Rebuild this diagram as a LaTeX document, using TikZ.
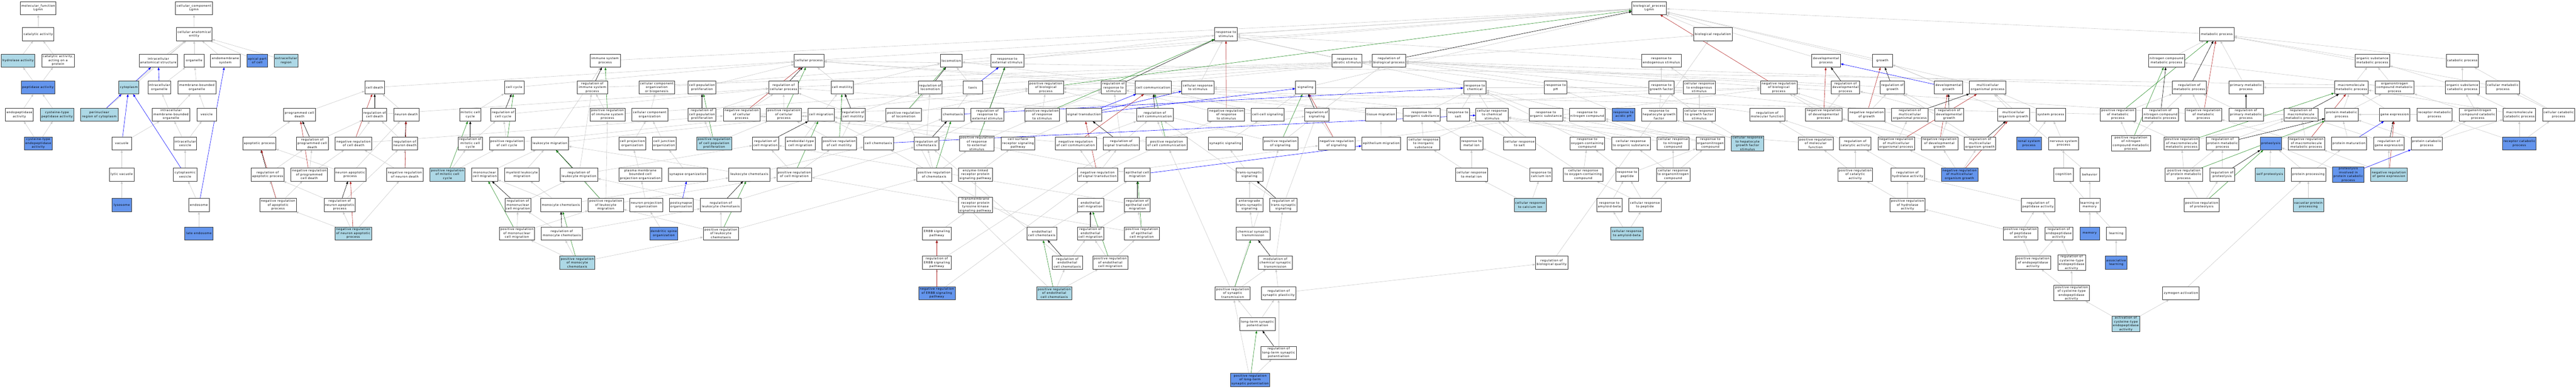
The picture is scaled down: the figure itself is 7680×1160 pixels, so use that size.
\documentclass[tikz,border=0pt]{standalone}
\usepackage{fontspec}
\newfontfamily\gofont[LetterSpace=9]{DejaVu Sans}
\usetikzlibrary{arrows.meta}
\usetikzlibrary{backgrounds}
\definecolor{golight}{HTML}{ADD8E6}
\definecolor{godark}{HTML}{6495ED}
\definecolor{edgegrey}{HTML}{C8C8C8}
\definecolor{negred}{HTML}{B22222}
\definecolor{posgreen}{HTML}{228B22}
\tikzset{
 box/.style={draw=black!80, line width=1pt, fill=white, rectangle, align=center, minimum height=39, inner xsep=2, inner ysep=1.5, font=\gofont\fontsize{9}{11.5}\selectfont},
 lb/.style={box, fill=golight},
 db/.style={box, fill=godark},
 isa/.style={draw=edgegrey, line width=0.9pt, ->},
 regl/.style={draw=black, line width=0.9pt, ->},
 negl/.style={draw=negred, line width=0.9pt, ->},
 posl/.style={draw=posgreen, line width=0.9pt, ->},
 partl/.style={draw=blue, line width=0.9pt, ->},
}

\begin{document}
\begin{tikzpicture}[x=1pt, y=-1pt, >={Triangle[length=8pt,width=6pt]}]
\useasboundingbox (0,0) rectangle (7680,1160);
% molecular function
\node[box,minimum width=106] (mf) at (114,24) {molecular\_function\\Lgmn};
\node[box,minimum width=94] (cat) at (114,102) {catalytic activity};
\node[lb,minimum width=100] (hydro) at (54,181) {hydrolase activity};
\node[box,minimum width=96] (catprot) at (173,181) {catalytic activity,\\acting on a\\protein};
\node[db,minimum width=100] (pept) at (113,261) {peptidase activity};
\node[box,minimum width=83] (endop) at (58,342) {endopeptidase\\activity};
\node[lb,minimum width=100] (cyspep) at (170,342) {cysteine-type\\peptidase activity};
\node[db,minimum width=84] (cysendo) at (114,428) {cysteine-type\\endopeptidase\\activity};
% cellular component
\node[box,minimum width=110] (cc) at (578,24) {cellular\_component\\Lgmn};
\node[box,minimum width=106] (cae) at (579,102) {cellular anatomical\\entity};
\node[box,minimum width=115] (intra) at (472,181) {intracellular\\anatomical structure};
\node[box,minimum width=59] (organelle) at (579,181) {organelle};
\node[box,minimum width=90] (endomem) at (672,181) {endomembrane\\system};
\node[db,minimum width=61] (apical) at (767,181) {apical part\\of cell};
\node[lb,minimum width=71] (extra) at (853,181) {extracellular\\region};
\node[lb,minimum width=60] (cyto) at (384,261) {cytoplasm};
\node[box,minimum width=68] (intraorg) at (475,261) {intracellular\\organelle};
\node[box,minimum width=113] (mbo) at (587,261) {membrane-bounded\\organelle};
\node[lb,minimum width=111] (perinuc) at (296,342) {perinuclear\\region of cytoplasm};
\node[box,minimum width=113] (imbo) at (510,342) {intracellular\\membrane-bounded\\organelle};
\node[box,minimum width=58] (vesicle) at (616,342) {vesicle};
\node[box,minimum width=59] (vacuole) at (363,428) {vacuole};
\node[box,minimum width=68] (ivesicle) at (552,428) {intracellular\\vesicle};
\node[box,minimum width=73] (lyticvac) at (363,521) {lytic vacuole};
\node[box,minimum width=70] (cytoves) at (552,521) {cytoplasmic\\vesicle};
\node[db,minimum width=59] (lysosome) at (363,612) {lysosome};
\node[box,minimum width=61] (endosome) at (593,612) {endosome};
\node[db,minimum width=84] (lateendo) at (593,697) {late endosome};
% biological process
\node[box,minimum width=103] (bp) at (4917,24) {biological\_process\\Lgmn};
\node[box,minimum width=114] (bioreg) at (5107,102) {biological regulation};
\node[box,minimum width=67] (rstim) at (3655,102) {response to\\stimulus};
\node[box,minimum width=102] (metab) at (6609,102) {metabolic process};
\node[box,minimum width=58] (celldeath) at (1117,261) {cell death};
\node[box,minimum width=95] (pcd) at (893,342) {programmed cell\\death};
\node[box,minimum width=72] (regcd) at (1117,342) {regulation of\\cell death};
\node[box,minimum width=75] (neurdeath) at (1211,342) {neuron death};
\node[box,minimum width=98] (apop) at (773,428) {apoptotic process};
\node[box,minimum width=96] (regpcd) at (931,428) {regulation of\\programmed cell\\death};
\node[box,minimum width=109] (negcd) at (1054,428) {negative regulation\\of cell death};
\node[box,minimum width=75] (regneurdeath) at (1207,428) {regulation of\\neuron death};
\node[box,minimum width=98] (regapop) at (798,521) {regulation of\\apoptotic process};
\node[box,minimum width=109] (negpcd) at (922,521) {negative regulation\\of programmed\\cell death};
\node[box,minimum width=94] (neurapop) at (1044,521) {neuron apoptotic\\process};
\node[box,minimum width=108] (negneurdeath) at (1207,521) {negative regulation\\of neuron death};
\node[box,minimum width=109] (negapop) at (829,612) {negative regulation\\of apoptotic\\process};
\node[box,minimum width=93] (regneurapop) at (1013,612) {regulation of\\neuron apoptotic\\process};
\node[lb,minimum width=109] (negneurapop) at (1053,697) {negative regulation\\of neuron apoptotic\\process};
\node[box,minimum width=91] (imsys) at (1804,181) {immune system\\process};
\node[box,minimum width=59] (cellcycle) at (1533,261) {cell cycle};
\node[box,minimum width=91] (regimm) at (1766,261) {regulation of\\immune system\\process};
\node[box,minimum width=107] (ccob) at (1958,261) {cellular component\\organization\\or biogenesis};
\node[box,minimum width=64] (mitcc) at (1402,342) {mitotic cell\\cycle};
\node[box,minimum width=73] (regcc) at (1500,342) {regulation of\\cell cycle};
\node[box,minimum width=104] (posimm) at (1811,342) {positive regulation\\of immune system\\process};
\node[box,minimum width=107] (cco) at (1937,342) {cellular component\\organization};
\node[box,minimum width=72] (regmitcc) at (1402,428) {regulation of\\mitotic cell\\cycle};
\node[box,minimum width=104] (poscc) at (1511,428) {positive regulation\\of cell cycle};
\node[box,minimum width=111] (leukmig) at (1639,428) {leukocyte migration};
\node[box,minimum width=79] (cellprojorg) at (1885,428) {cell projection\\organization};
\node[lb,minimum width=104] (posmitcc) at (1334,521) {positive regulation\\of mitotic cell\\cycle};
\node[box,minimum width=78] (mononuc) at (1445,521) {mononuclear\\cell migration};
\node[box,minimum width=103] (myeloid) at (1556,521) {myeloid leukocyte\\migration};
\node[box,minimum width=111] (regleukmig) at (1726,521) {regulation of\\leukocyte migration};
\node[box,minimum width=127] (pmbcpo) at (1909,521) {plasma membrane\\bounded cell\\projection organization};
\node[box,minimum width=77] (regmononuc) at (1544,612) {regulation of\\mononuclear\\cell migration};
\node[box,minimum width=122] (monochemo) at (1672,612) {monocyte chemotaxis};
\node[box,minimum width=105] (posleukmig) at (1806,612) {positive regulation\\of leukocyte\\migration};
\node[box,minimum width=98] (neurprojorg) at (1927,612) {neuron projection\\organization};
\node[box,minimum width=104] (posmononuc) at (1541,697) {positive regulation\\of mononuclear\\cell migration};
\node[box,minimum width=122] (regmonochemo) at (1675,697) {regulation of\\monocyte chemotaxis};
\node[lb,minimum width=104] (posmonochemo) at (1721,784) {positive regulation\\of monocyte\\chemotaxis};
\node[box,minimum width=88] (cellproc) at (2412,181) {cellular process};
\node[box,minimum width=83] (cellprolif) at (2093,261) {cell population\\proliferation};
\node[box,minimum width=88] (regcellproc) at (2336,261) {regulation of\\cellular process};
\node[box,minimum width=67] (motility) at (2511,261) {cell motility};
\node[box,minimum width=83] (regprolif) at (2093,342) {regulation of\\cell population\\proliferation};
\node[box,minimum width=109] (negcp) at (2211,342) {negative regulation\\of cellular\\process};
\node[box,minimum width=104] (poscp) at (2337,342) {positive regulation\\of cellular\\process};
\node[box,minimum width=78] (cellmig) at (2448,342) {cell migration};
\node[box,minimum width=72] (regmotility) at (2544,342) {regulation of\\cell motility};
\node[box,minimum width=70] (celljunc) at (1980,428) {cell junction\\organization};
\node[lb,minimum width=104] (posprolif) at (2129,428) {positive regulation\\of cell population\\proliferation};
\node[box,minimum width=78] (regcellmig) at (2282,428) {regulation of\\cell migration};
\node[box,minimum width=89] (ameboid) at (2386,428) {ameboidal-type\\cell migration};
\node[box,minimum width=104] (posmotility) at (2502,428) {positive regulation\\of cell motility};
\node[box,minimum width=118] (synorg) at (2051,521) {synapse organization};
\node[box,minimum width=122] (leukchemo) at (2234,521) {leukocyte chemotaxis};
\node[box,minimum width=104] (poscellmig) at (2368,521) {positive regulation\\of cell migration};
\node[box,minimum width=71] (postsyn) at (2031,612) {postsynapse\\organization};
\node[box,minimum width=122] (regleukchemo) at (2149,612) {regulation of\\leukocyte chemotaxis};
\node[db,minimum width=83] (dendspine) at (1979,697) {dendritic spine\\organization};
\node[box,minimum width=105] (posleukchemo) at (2149,697) {positive regulation\\of leukocyte\\chemotaxis};
\node[box,minimum width=64] (locom) at (2836,181) {locomotion};
\node[box,minimum width=98] (rext) at (3003,181) {response to\\external stimulus};
\node[box,minimum width=72] (reglocom) at (2773,261) {regulation of\\locomotion};
\node[box,minimum width=59] (taxis) at (2900,261) {taxis};
\node[box,minimum width=104] (posbio) at (3118,261) {positive regulation\\of biological\\process};
\node[box,minimum width=105] (poslocom) at (2694,342) {positive regulation\\of locomotion};
\node[box,minimum width=67] (chemotaxis) at (2841,342) {chemotaxis};
\node[box,minimum width=98] (regrext) at (2944,342) {regulation of\\response to\\external stimulus};
\node[box,minimum width=104] (posrstim) at (3107,342) {positive regulation\\of response\\to stimulus};
\node[box,minimum width=106] (sigtrans) at (3232,342) {signal transduction};
\node[box,minimum width=89] (cellchemo) at (2619,428) {cell chemotaxis};
\node[box,minimum width=73] (regchemo) at (2762,428) {regulation of\\chemotaxis};
\node[box,minimum width=104] (posrext) at (2912,428) {positive regulation\\of response\\to external\\stimulus};
\node[box,minimum width=100] (csrsp) at (3035,428) {cell surface\\receptor signaling\\pathway};
\node[box,minimum width=123] (negcellcomm) at (3207,428) {negative regulation\\of cell communication};
\node[box,minimum width=104] (poschemo) at (2785,521) {positive regulation\\of chemotaxis};
\node[box,minimum width=102] (elrpsp) at (2908,521) {enzyme-linked\\receptor protein\\signaling pathway};
\node[box,minimum width=102] (tmrtk) at (2908,612) {transmembrane\\receptor protein\\tyrosine kinase\\signaling pathway};
\node[box,minimum width=85] (erbb) at (2793,697) {ERBB signaling\\pathway};
\node[box,minimum width=89] (endochemo) at (3106,697) {endothelial\\cell chemotaxis};
\node[box,minimum width=85] (regerbb) at (2793,784) {regulation of\\ERBB signaling\\pathway};
\node[box,minimum width=90] (regendochemo) at (3182,784) {regulation of\\endothelial\\cell chemotaxis};
\node[db,minimum width=109] (negerbb) at (2793,875) {negative regulation\\of ERBB signaling\\pathway};
\node[lb,minimum width=105] (posendochemo) at (3143,875) {positive regulation\\of endothelial\\cell chemotaxis};
\node[box,minimum width=73] (regrstim) at (3320,261) {regulation of\\response to\\stimulus};
\node[box,minimum width=109] (cellcomm) at (3438,261) {cell communication};
\node[box,minimum width=96] (cellrstim) at (3571,261) {cellular response\\to stimulus};
\node[box,minimum width=109] (regcellcomm) at (3443,342) {regulation of\\cell communication};
\node[box,minimum width=109] (negrstim) at (3656,342) {negative regulation\\of response\\to stimulus};
\node[box,minimum width=98] (cellcellsig) at (3779,342) {cell-cell signaling};
\node[box,minimum width=107] (regsigtrans) at (3343,428) {regulation of\\signal transduction};
\node[box,minimum width=122] (poscellcomm) at (3478,428) {positive regulation\\of cell communication};
\node[box,minimum width=100] (synsig) at (3653,428) {synaptic signaling};
\node[box,minimum width=104] (possignaling) at (3817,428) {positive regulation\\of signaling};
\node[box,minimum width=120] (negsigtrans) at (3272,521) {negative regulation\\of signal transduction};
\node[box,minimum width=77] (epicellmig) at (3391,521) {epithelial cell\\migration};
\node[box,minimum width=80] (transsyn) at (3725,521) {trans-synaptic\\signaling};
\node[box,minimum width=78] (endocellmig) at (3251,612) {endothelial\\cell migration};
\node[box,minimum width=77] (regepimig) at (3391,612) {regulation of\\epithelial cell\\migration};
\node[box,minimum width=80] (antero) at (3725,612) {anterograde\\trans-synaptic\\signaling};
\node[box,minimum width=81] (regtranssyn) at (3826,612) {regulation of\\trans-synaptic\\signaling};
\node[box,minimum width=78] (regendomig) at (3251,697) {regulation of\\endothelial\\cell migration};
\node[box,minimum width=104] (posepimig) at (3404,697) {positive regulation\\of epithelial\\cell migration};
\node[box,minimum width=101] (chemsyn) at (3736,697) {chemical synaptic\\transmission};
\node[box,minimum width=104] (posendomig) at (3310,784) {positive regulation\\of endothelial\\cell migration};
\node[box,minimum width=100] (modchemsyn) at (3802,784) {modulation of\\chemical synaptic\\transmission};
\node[box,minimum width=105] (possyntrans) at (3675,875) {positive regulation\\of synaptic\\transmission};
\node[box,minimum width=103] (regsynplast) at (3812,875) {regulation of\\synaptic plasticity};
\node[box,minimum width=105] (ltp) at (3749,967) {long-term synaptic\\potentiation};
\node[box,minimum width=105] (regltp) at (3812,1053) {regulation of\\long-term synaptic\\potentiation};
\node[db,minimum width=117] (posltp) at (3727,1134) {positive regulation\\of long-term\\synaptic potentiation};
\node[box,minimum width=89] (rabio) at (4016,181) {response to\\abiotic stimulus};
\node[box,minimum width=100] (regbio) at (4141,181) {regulation of\\biological process};
\node[box,minimum width=59] (signaling) at (3892,261) {signaling};
\node[box,minimum width=67] (rchem) at (4397,261) {response to\\chemical};
\node[box,minimum width=72] (regsignaling) at (3926,342) {regulation of\\signaling};
\node[box,minimum width=91] (tissuemig) at (4117,342) {tissue migration};
\node[box,minimum width=111] (rinorg) at (4238,342) {response to\\inorganic substance};
\node[box,minimum width=68] (rsalt) at (4347,342) {response to\\salt};
\node[box,minimum width=96] (crchem) at (4448,342) {cellular response\\to chemical\\stimulus};
\node[box,minimum width=109] (negsignaling) at (3985,428) {negative regulation\\of signaling};
\node[box,minimum width=116] (epithmig) at (4118,428) {epithelium migration};
\node[box,minimum width=96] (crinorg) at (4244,428) {cellular response\\to inorganic\\substance};
\node[box,minimum width=67] (rmetal) at (4387,428) {response to\\metal ion};
\node[box,minimum width=96] (crmetal) at (4387,521) {cellular response\\to metal ion};
\node[box,minimum width=118] (rendo) at (4953,181) {response to\\endogenous stimulus};
\node[box,minimum width=67] (rph) at (4638,261) {response to\\pH};
\node[box,minimum width=76] (rgf) at (4953,261) {response to\\growth factor};
\node[box,minimum width=96] (crendo) at (5066,261) {cellular response\\to endogenous\\stimulus};
\node[box,minimum width=100] (rorgsub) at (4609,342) {response to\\organic substance};
\node[box,minimum width=107] (rnitro) at (4732,342) {response to\\nitrogen compound};
\node[db,minimum width=67] (racidph) at (4840,342) {response to\\acidic pH};
\node[box,minimum width=104] (rhgf) at (4946,342) {response to\\hepatocyte growth\\factor};
\node[box,minimum width=95] (crgf) at (5066,342) {cellular response\\to growth factor\\stimulus};
\node[box,minimum width=96] (crsalt) at (4530,428) {cellular response\\to salt};
\node[box,minimum width=103] (roxy) at (4732,428) {response to\\oxygen-containing\\compound};
\node[box,minimum width=115] (crorgsub) at (4862,428) {cellular response\\to organic substance};
\node[box,minimum width=96] (crnitro) at (4988,428) {cellular response\\to nitrogen\\compound};
\node[box,minimum width=85] (ron) at (5099,428) {response to\\organonitrogen\\compound};
\node[box,minimum width=67] (rcalcium) at (4594,521) {response to\\calcium ion};
\node[box,minimum width=118] (croxy) at (4720,521) {cellular response\\to oxygen-containing\\compound};
\node[box,minimum width=67] (rpeptide) at (4851,521) {response to\\peptide};
\node[box,minimum width=100] (cron) at (4988,521) {cellular response\\to organonitrogen\\compound};
\node[lb,minimum width=96] (crcalcium) at (4562,612) {cellular response\\to calcium ion};
\node[box,minimum width=76] (ramyloid) at (4798,612) {response to\\amyloid-beta};
\node[box,minimum width=96] (crpeptide) at (4904,612) {cellular response\\to peptide};
\node[lb,minimum width=96] (crambeta) at (4850,697) {cellular response\\to amyloid-beta};
\node[box,minimum width=96] (regbioqual) at (4626,784) {regulation of\\biological quality};
\node[box,minimum width=86] (devproc) at (5444,181) {developmental\\process};
\node[box,minimum width=59] (growth) at (5612,181) {growth};
\node[box,minimum width=109] (negbio) at (5303,261) {negative regulation\\of biological\\process};
\node[box,minimum width=85] (regdev) at (5502,261) {regulation of\\developmental\\process};
\node[box,minimum width=72] (reggrowth) at (5642,261) {regulation of\\growth};
\node[box,minimum width=104] (regmolfunc) at (5269,342) {regulation of\\molecular function};
\node[box,minimum width=109] (negdev) at (5437,342) {negative regulation\\of developmental\\process};
\node[box,minimum width=109] (neggrowth) at (5565,342) {negative regulation\\of growth};
\node[box,minimum width=109] (regmulti) at (5694,342) {regulation of\\multicellular\\organismal process};
\node[lb,minimum width=96] (crhgf) at (5210,428) {cellular response\\to hepatocyte\\growth factor\\stimulus};
\node[box,minimum width=104] (posmolfunc) at (5413,428) {positive regulation\\of molecular\\function};
\node[box,minimum width=93] (regcatact) at (5531,428) {regulation of\\catalytic activity};
\node[box,minimum width=109] (negmulti) at (5653,428) {negative regulation\\of multicellular\\organismal process};
\node[box,minimum width=109] (negdevgrowth) at (5782,428) {negative regulation\\of developmental\\growth};
\node[box,minimum width=104] (poscatact) at (5531,521) {positive regulation\\of catalytic\\activity};
\node[box,minimum width=100] (reghydro) at (5687,521) {regulation of\\hydrolase activity};
\node[box,minimum width=104] (poshydro) at (5687,612) {positive regulation\\of hydrolase\\activity};
\node[box,minimum width=85] (devgrowth) at (5809,261) {developmental\\growth};
\node[box,minimum width=109] (multiproc) at (5926,261) {multicellular\\organismal process};
\node[box,minimum width=85] (regdevgrowth) at (5811,342) {regulation of\\developmental\\growth};
\node[box,minimum width=94] (multigrowth) at (6003,342) {multicellular\\organism growth};
\node[box,minimum width=88] (sysproc) at (6114,342) {system process};
\node[box,minimum width=105] (posmetab) at (6314,342) {positive regulation\\of metabolic\\process};
\node[box,minimum width=108] (regnitmet) at (6441,342) {regulation of\\nitrogen compound\\metabolic process};
\node[box,minimum width=94] (regmultigrowth) at (5903,428) {regulation of\\multicellular\\organism growth};
\node[db,minimum width=74] (renal) at (6049,428) {renal system\\process};
\node[box,minimum width=90] (nervous) at (6152,428) {nervous system\\process};
\node[box,minimum width=116] (posnitmet) at (6353,428) {positive regulation\\of nitrogen\\compound metabolic\\process};
\node[db,minimum width=109] (negmultigrowth) at (5842,521) {negative regulation\\of multicellular\\organism growth};
\node[box,minimum width=59] (cognition) at (6152,521) {cognition};
\node[box,minimum width=59] (behavior) at (6230,521) {behavior};
\node[box,minimum width=100] (regpeptidase) at (6076,612) {regulation of\\peptidase activity};
\node[box,minimum width=61] (learnmem) at (6230,612) {learning or\\memory};
\node[box,minimum width=104] (pospeptidase) at (6024,697) {positive regulation\\of peptidase\\activity};
\node[box,minimum width=83] (regendopep) at (6138,697) {regulation of\\endopeptidase\\activity};
\node[db,minimum width=59] (memory) at (6230,697) {memory};
\node[box,minimum width=59] (learning) at (6309,697) {learning};
\node[box,minimum width=104] (posendopep) at (6061,784) {positive regulation\\of endopeptidase\\activity};
\node[box,minimum width=83] (regcysendo) at (6176,784) {regulation of\\cysteine-type\\endopeptidase\\activity};
\node[db,minimum width=65] (assoc) at (6309,784) {associative\\learning};
\node[box,minimum width=105] (poscysendo) at (6176,875) {positive regulation\\of cysteine-type\\endopeptidase\\activity};
\node[lb,minimum width=84] (actcysendo) at (6338,967) {activation of\\cysteine-type\\endopeptidase\\activity};
\node[box,minimum width=107] (nitmet) at (6459,181) {nitrogen compound\\metabolic process};
\node[box,minimum width=103] (orgsubmet) at (7073,181) {organic substance\\metabolic process};
\node[box,minimum width=102] (regmetab) at (6527,261) {regulation of\\metabolic process};
\node[box,minimum width=103] (primmet) at (6696,261) {primary metabolic\\process};
\node[box,minimum width=101] (macromet) at (7010,261) {macromolecule\\metabolic process};
\node[box,minimum width=108] (negmetab) at (6569,342) {negative regulation\\of metabolic\\process};
\node[box,minimum width=103] (regprimmet) at (6696,342) {regulation of\\primary metabolic\\process};
\node[box,minimum width=102] (regmacromet) at (6860,342) {regulation of\\macromolecule\\metabolic process};
\node[box,minimum width=99] (protmet) at (6981,342) {protein metabolic\\process};
\node[box,minimum width=105] (posmacromet) at (6504,428) {positive regulation\\of macromolecule\\metabolic process};
\node[box,minimum width=98] (regprotmet) at (6626,428) {regulation of\\protein metabolic\\process};
\node[db,minimum width=63] (proteolysis) at (6770,428) {proteolysis};
\node[box,minimum width=109] (negmacromet) at (6876,428) {negative regulation\\of macromolecule\\metabolic process};
\node[box,minimum width=105] (protmat) at (7003,428) {protein maturation};
\node[box,minimum width=113] (posprotmet) at (6511,521) {positive regulation\\of protein metabolic\\process};
\node[box,minimum width=73] (regproteolysis) at (6625,521) {regulation of\\proteolysis};
\node[lb,minimum width=87] (selfprot) at (6767,521) {self proteolysis};
\node[box,minimum width=103] (protproc) at (6882,521) {protein processing};
\node[db,minimum width=94] (protcatprot) at (7001,521) {proteolysis\\involved in\\protein catabolic\\process};
\node[box,minimum width=105] (posproteolysis) at (6564,612) {positive regulation\\of proteolysis};
\node[lb,minimum width=91] (vacprot) at (6882,612) {vacuolar protein\\processing};
\node[box,minimum width=109] (zymogen) at (6502,875) {zymogen activation};
\node[box,minimum width=96] (catab) at (7341,181) {catabolic process};
\node[box,minimum width=116] (onmet) at (7139,261) {organonitrogen\\compound metabolic\\process};
\node[box,minimum width=100] (oscat) at (7341,261) {organic substance\\catabolic process};
\node[box,minimum width=100] (cellmet) at (7462,261) {cellular metabolic\\process};
\node[box,minimum width=92] (geneexp) at (7139,342) {gene expression};
\node[box,minimum width=104] (recmet) at (7258,342) {receptor metabolic\\process};
\node[box,minimum width=112] (oncat) at (7387,342) {organonitrogen\\compound catabolic\\process};
\node[box,minimum width=96] (macrocat) at (7511,342) {macromolecule\\catabolic process};
\node[box,minimum width=96] (cellcat) at (7628,342) {cellular catabolic\\process};
\node[box,minimum width=92] (reggeneexp) at (7122,428) {regulation of\\gene expression};
\node[box,minimum width=93] (protcat) at (7235,428) {protein catabolic\\process};
\node[db,minimum width=100] (reccat) at (7511,428) {receptor catabolic\\process};
\node[lb,minimum width=109] (neggeneexp) at (7122,521) {negative regulation\\of gene expression};

\begin{scope}[on background layer]
% is_a
\foreach \a/\b in {cat/mf, hydro/cat, catprot/cat, pept/hydro, pept/catprot, endop/pept, cyspep/pept, cysendo/endop, cysendo/cyspep,
 cae/cc, intra/cae, organelle/cae, endomem/cae, apical/cae, extra/cae, cyto/cae, perinuc/cae, intraorg/organelle, mbo/organelle, imbo/intraorg, imbo/mbo, vesicle/mbo, vacuole/imbo, ivesicle/imbo, ivesicle/vesicle, cytoves/ivesicle, lyticvac/vacuole, lysosome/lyticvac, endosome/cytoves, lateendo/endosome,
 bioreg/bp, rstim/bp, metab/bp, imsys/bp, cellproc/bp, locom/bp, devproc/bp, growth/bp, multiproc/bp, ccob/bp, signaling/bp, rext/rstim, rabio/rstim, rendo/rstim, rchem/rstim, cellrstim/rstim, regbio/bioreg, regbioqual/bioreg, nitmet/metab, orgsubmet/metab, catab/metab, cellmet/metab, primmet/metab,
 celldeath/cellproc, cellcycle/cellproc, cellprolif/cellproc, motility/cellproc, cellcomm/cellproc, cellrstim/cellproc, cellmet/cellproc, regimm/regbio, regcellproc/regbio, reglocom/regbio, posbio/regbio, regrstim/regbio, negbio/regbio, regdev/regbio, reggrowth/regbio, regmetab/regbio, regsignaling/regbio, regmolfunc/regbio, regmulti/regbio, motility/locom, taxis/locom, rph/rabio, rgf/rendo, crendo/rendo, crendo/cellrstim, macromet/primmet, macromet/orgsubmet, onmet/nitmet, onmet/orgsubmet, oscat/catab, oscat/orgsubmet,
 pcd/celldeath, neurdeath/celldeath, regcd/regcellproc, mitcc/cellcycle, regcc/regcellproc, posimm/regimm, posimm/posbio, cco/ccob, regprolif/regcellproc, negcp/regcellproc, negcp/negbio, poscp/regcellproc, poscp/posbio, cellmig/motility, regmotility/reglocom, regmotility/regcellproc, poslocom/reglocom, poslocom/posbio, chemotaxis/taxis, regrext/regrstim, posrstim/regrstim, posrstim/posbio, regcellcomm/regcellproc, negrstim/regrstim, negrstim/negbio, cellcellsig/signaling, cellcellsig/cellcomm, tissuemig/locom, rinorg/rchem, rsalt/rchem, crchem/rchem, crchem/cellrstim, rorgsub/rchem, rnitro/rchem, racidph/rph, rhgf/rgf, crgf/rgf, crgf/crendo, negdev/regdev, negdev/negbio, neggrowth/reggrowth, neggrowth/negbio, devgrowth/growth, regdevgrowth/regdev, regdevgrowth/reggrowth, multigrowth/multiproc, multigrowth/growth, sysproc/multiproc, posmetab/regmetab, posmetab/posbio, regnitmet/regmetab, negmetab/regmetab, negmetab/negbio, regprimmet/regmetab, regmacromet/regprimmet, protmet/macromet, protmet/onmet, geneexp/macromet, recmet/protmet, oncat/onmet, oncat/oscat, macrocat/macromet, macrocat/oscat, cellcat/cellmet, cellcat/catab,
 apop/pcd, regpcd/regcd, negcd/regcd, negcd/negcp, regneurdeath/regcd, regmitcc/regcc, poscc/regcc, poscc/poscp, leukmig/cellmig, leukmig/imsys, cellprojorg/cco, celljunc/cco, posprolif/regprolif, posprolif/poscp, ameboid/cellmig, posmotility/regmotility, posmotility/poslocom, posmotility/poscp, cellchemo/cellmig, cellchemo/chemotaxis, regchemo/reglocom, regchemo/regrext, posrext/regrext, posrext/posrstim, csrsp/sigtrans, negcellcomm/regcellcomm, negcellcomm/negcp, regsigtrans/regsignaling, regsigtrans/regrstim, regsigtrans/regcellcomm, poscellcomm/regcellcomm, poscellcomm/poscp, synsig/cellcellsig, possignaling/regsignaling, possignaling/posbio, negsignaling/regsignaling, negsignaling/negbio, epithmig/tissuemig, crinorg/rinorg, crinorg/crchem, rmetal/rinorg, crsalt/rsalt, crsalt/crchem, roxy/rchem, crorgsub/rorgsub, crorgsub/crchem, crnitro/rnitro, crnitro/crchem, ron/rnitro, ron/rorgsub, crhgf/rhgf, crhgf/crgf, posmolfunc/regmolfunc, posmolfunc/posbio, regcatact/regmolfunc, negmulti/regmulti, negmulti/negbio, negdevgrowth/regdevgrowth, negdevgrowth/negdev, negdevgrowth/neggrowth, regmultigrowth/regmulti, regmultigrowth/reggrowth, renal/sysproc, nervous/sysproc, posnitmet/regnitmet, posnitmet/posmetab, posmacromet/regmacromet, posmacromet/posmetab, regprotmet/regmacromet, proteolysis/protmet, negmacromet/regmacromet, negmacromet/negmetab, protmat/protmet, reggeneexp/regmacromet, protcat/protmet, protcat/macrocat, protcat/oncat, reccat/recmet, reccat/macrocat, reccat/cellcat,
 regapop/regpcd, negpcd/regpcd, negpcd/negcd, neurapop/apop, neurapop/neurdeath, negneurdeath/regneurdeath, negneurdeath/negcd, posmitcc/regmitcc, posmitcc/poscc, mononuc/leukmig, myeloid/leukmig, regleukmig/regcellmig, regleukmig/regimm, pmbcpo/cellprojorg, synorg/celljunc, leukchemo/leukmig, leukchemo/cellchemo, poscellmig/regcellmig, poscellmig/posmotility, poschemo/regchemo, poschemo/poslocom, poschemo/posrext, elrpsp/csrsp, negsigtrans/regsigtrans, negsigtrans/negsignaling, negsigtrans/negcellcomm, negsigtrans/negrstim, epicellmig/cellmig, transsyn/synsig, crmetal/rmetal, crmetal/crinorg, rcalcium/rmetal, croxy/roxy, croxy/crchem, rpeptide/ron, rpeptide/roxy, cron/ron, cron/crnitro, cron/crorgsub, poscatact/regcatact, poscatact/posmolfunc, reghydro/regcatact, negmultigrowth/regmultigrowth, negmultigrowth/negdevgrowth, negmultigrowth/negmulti, cognition/nervous, behavior/multiproc, posprotmet/regprotmet, posprotmet/posmacromet, regproteolysis/regprotmet, selfprot/proteolysis, protproc/proteolysis, protproc/protmat, protcatprot/proteolysis, neggeneexp/reggeneexp, neggeneexp/negmacromet,
 negapop/regapop, negapop/negpcd, regneurapop/regapop, regneurapop/regneurdeath, regmononuc/regleukmig, monochemo/mononuc, monochemo/myeloid, monochemo/leukchemo, posleukmig/regleukmig, posleukmig/posimm, posleukmig/poscellmig, neurprojorg/pmbcpo, regleukchemo/regleukmig, regleukchemo/regchemo, tmrtk/elrpsp, endocellmig/epicellmig, regepimig/regcellmig, antero/transsyn, regtranssyn/regcellcomm, regtranssyn/regsignaling, crcalcium/crmetal, crcalcium/rcalcium, ramyloid/rpeptide, crpeptide/rpeptide, crpeptide/cron, crpeptide/croxy, poshydro/reghydro, poshydro/poscatact, regpeptidase/reghydro, learnmem/cognition, learnmem/behavior, posproteolysis/regproteolysis, posproteolysis/posprotmet, vacprot/protproc,
 negneurapop/regneurapop, negneurapop/negapop, negneurapop/negneurdeath, posmononuc/regmononuc, posmononuc/posleukmig, regmonochemo/regmononuc, regmonochemo/regleukchemo, dendspine/neurprojorg, posleukchemo/regleukchemo, posleukchemo/posleukmig, posleukchemo/poschemo, erbb/tmrtk, endochemo/cellchemo, endochemo/endocellmig, regendomig/regepimig, posepimig/regepimig, posepimig/poscellmig, chemsyn/antero, crambeta/ramyloid, crambeta/crpeptide, pospeptidase/regpeptidase, pospeptidase/poshydro, regendopep/regpeptidase, memory/learnmem, learning/learnmem,
 posmonochemo/regmonochemo, posmonochemo/posmononuc, posmonochemo/posleukchemo, regerbb/regsigtrans, regendochemo/regchemo, regendochemo/regendomig, posendomig/regendomig, posendomig/posepimig, modchemsyn/regtranssyn, posendopep/regendopep, posendopep/pospeptidase, regcysendo/regendopep, assoc/learning,
 negerbb/regerbb, negerbb/negsigtrans, posendochemo/regendochemo, posendochemo/poschemo, posendochemo/posendomig, possyntrans/modchemsyn, possyntrans/poscellcomm, possyntrans/possignaling, regsynplast/modchemsyn, regsynplast/regbioqual, poscysendo/regcysendo, poscysendo/posendopep, zymogen/protproc,
 ltp/regsynplast, ltp/possyntrans, actcysendo/poscysendo, actcysendo/zymogen, regltp/regsynplast, posltp/regltp, posltp/possyntrans}
 \draw[isa] (\a) -- (\b);
% regulates
\foreach \a/\b in {regbio/bp, regimm/imsys, regcellproc/cellproc, reglocom/locom, regrstim/rstim, regdev/devproc, reggrowth/growth, regmetab/metab, regcd/celldeath, regcc/cellcycle, regprolif/cellprolif, regmotility/motility, regrext/rext, regcellcomm/cellcomm, regsignaling/signaling, regmulti/multiproc, regdevgrowth/devgrowth, regnitmet/nitmet, regprimmet/primmet, regmacromet/macromet, regpcd/pcd, regneurdeath/neurdeath, regmitcc/mitcc, regcellmig/cellmig, regchemo/chemotaxis, regsigtrans/sigtrans, regmultigrowth/multigrowth, regprotmet/protmet, reggeneexp/geneexp, regapop/apop, regleukmig/leukmig, regproteolysis/proteolysis, regneurapop/neurapop, regmononuc/mononuc, regleukchemo/leukchemo, regepimig/epicellmig, regtranssyn/transsyn, regmonochemo/monochemo, regendomig/endocellmig, regerbb/erbb, regendochemo/endochemo, modchemsyn/chemsyn, regltp/ltp}
 \draw[regl] (\a) -- (\b);
% negatively regulates
\foreach \a/\b in {negbio/bp, negcp/cellproc, negrstim/rstim, negdev/devproc, neggrowth/growth, negmetab/metab, negcd/celldeath, negcellcomm/cellcomm, negsignaling/signaling, negmulti/multiproc, negdevgrowth/devgrowth, negmacromet/macromet, negpcd/pcd, negneurdeath/neurdeath, negsigtrans/sigtrans, negmultigrowth/multigrowth, neggeneexp/geneexp, negapop/apop, negneurapop/neurapop, negerbb/erbb}
 \draw[negl] (\a) -- (\b);
% positively regulates
\foreach \a/\b in {posbio/bp, posimm/imsys, poscp/cellproc, poslocom/locom, posrstim/rstim, posmetab/metab, poscc/cellcycle, posprolif/cellprolif, posmotility/motility, posrext/rext, poscellcomm/cellcomm, possignaling/signaling, posnitmet/nitmet, posmacromet/macromet, posmitcc/mitcc, poscellmig/cellmig, poschemo/chemotaxis, posprotmet/protmet, posleukmig/leukmig, posproteolysis/proteolysis, posmononuc/mononuc, posleukchemo/leukchemo, posepimig/epicellmig, posmonochemo/monochemo, posendomig/endocellmig, posendochemo/endochemo, possyntrans/chemsyn, posltp/ltp}
 \draw[posl] (\a) -- (\b);
% part of
\foreach \a/\b in {cyto/intra, intraorg/intra, perinuc/cyto, vacuole/cyto, cytoves/cyto, endosome/endomem, taxis/rext, chemotaxis/rchem, sigtrans/cellcomm, sigtrans/cellrstim, sigtrans/signaling, cellchemo/crchem, epicellmig/epithmig, postsyn/synorg, devgrowth/devproc, protmat/geneexp, protcatprot/protcat}
 \draw[partl] (\a) -- (\b);
\end{scope}
\end{tikzpicture}
\end{document}
